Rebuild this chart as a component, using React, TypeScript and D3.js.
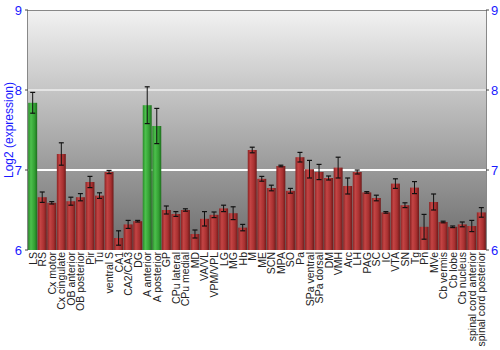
import React from "react";
import * as d3 from "d3";

const categories = ["LS","RS","Cx motor","Cx cingulate","OB anterior","OB posterior","Pir","Tu","ventral S","CA1","CA2/CA3","DG","A anterior","A posterior","GP","CPu lateral","CPu medial","MD","VA/VL","VPM/VPL","LG","MG","Hb","M","ME","SCN","MPA","SO","Pa","SPa ventral","SPa dorsal","DM","VMH","Arc","LH","PAG","SC","IC","VTA","SN","Tg","Pn","MVe","Cb vermis","Cb lobe","Cb nucleus","spinal cord anterior","spinal cord posterior"];
const values = [7.84,6.66,6.59,7.2,6.61,6.66,6.85,6.68,6.975,6.15,6.32,6.36,7.81,7.55,6.5,6.45,6.5,6.2,6.39,6.44,6.52,6.46,6.28,7.25,6.89,6.775,7.05,6.74,7.16,7.01,6.975,6.9,7.03,6.8,6.975,6.72,6.65,6.47,6.83,6.56,6.78,6.29,6.6,6.35,6.29,6.32,6.3,6.47];
const errors = [0.13,0.065,0.015,0.14,0.05,0.045,0.07,0.035,0.02,0.09,0.05,0.01,0.23,0.22,0.05,0.03,0.015,0.05,0.09,0.035,0.04,0.08,0.04,0.035,0.03,0.035,0.01,0.03,0.06,0.11,0.095,0.025,0.13,0.1,0.025,0.01,0.035,0.01,0.06,0.03,0.075,0.155,0.1,0.01,0.01,0.03,0.07,0.06];
const highlighted = ["LS","A anterior","A posterior"];
const yTicks = [6,7,8,9];

export default function App() {
  const W = 500, H = 350;
  const left = 28, right = 486, top = 10, bottom = 250;
  const x = d3.scaleBand<string>().domain(categories).range([left, right]).paddingInner(0.06).paddingOuter(0.02);
  const y = d3.scaleLinear().domain([6, 9]).range([bottom, top]);
  const blue = "#1a1aff";
  return (
    <svg width={W} height={H} style={{ position: "absolute", left: 0, top: 0 }} fontFamily="Liberation Sans, Arial, sans-serif">
      <defs>
        <linearGradient id="bg" x1="0" y1="0" x2="0" y2="1">
          <stop offset="0" stopColor="#f2f2f2" />
          <stop offset="1" stopColor="#6c6c6c" />
        </linearGradient>
        <linearGradient id="red" x1="0" y1="0" x2="1" y2="0">
          <stop offset="0" stopColor="#8a2424" />
          <stop offset="0.3" stopColor="#c44444" />
          <stop offset="0.7" stopColor="#a83030" />
          <stop offset="1" stopColor="#6e1a1a" />
        </linearGradient>
        <linearGradient id="green" x1="0" y1="0" x2="1" y2="0">
          <stop offset="0" stopColor="#2a8a2a" />
          <stop offset="0.3" stopColor="#4cc04c" />
          <stop offset="0.7" stopColor="#34a034" />
          <stop offset="1" stopColor="#1e6e1e" />
        </linearGradient>
      </defs>
      <rect x={left} y={top} width={right - left} height={bottom - top} fill="url(#bg)" />
      {yTicks.filter(t => t > 6 && t < 9).map(t => (
        <line key={t} x1={left} x2={right} y1={y(t)} y2={y(t)} stroke={t === 8 ? "#e4e4e4" : "#ffffff"} strokeWidth={2} />
      ))}
      {categories.map((c, i) => {
        const bx = x(c)!;
        const bw = x.bandwidth();
        const v = values[i];
        const e = errors[i];
        const cx = bx + bw / 2;
        return (
          <g key={c}>
            <rect x={bx} y={y(v)} width={bw} height={bottom - y(v)} fill={highlighted.includes(c) ? "url(#green)" : "url(#red)"} />
            <line x1={cx} x2={cx} y1={y(v + e)} y2={y(v - e)} stroke="#111" strokeWidth={1} />
            <line x1={cx - 2.5} x2={cx + 2.5} y1={y(v + e)} y2={y(v + e)} stroke="#111" strokeWidth={1.2} />
            <line x1={cx - 2.5} x2={cx + 2.5} y1={y(v - e)} y2={y(v - e)} stroke="#111" strokeWidth={1.2} />
            <text transform={`translate(${cx + 4},${bottom + 2}) rotate(-90)`} textAnchor="end" fontSize={10.5} fill="#222">{c}</text>
          </g>
        );
      })}
      <line x1={left} x2={right} y1={top + 0.5} y2={top + 0.5} stroke="#888" />
      <line x1={left - 0.5} x2={left - 0.5} y1={top} y2={bottom} stroke="#888" />
      <line x1={right + 0.5} x2={right + 0.5} y1={top} y2={bottom} stroke="#888" />
      {yTicks.map(t => (
        <g key={t}>
          <line x1={left - 3} x2={left} y1={y(t)} y2={y(t)} stroke="#444" />
          <line x1={right} x2={right + 3} y1={y(t)} y2={y(t)} stroke="#444" />
          <text x={left - 6} y={y(t) + 4.5} textAnchor="end" fontSize={13} fill={blue}>{t}</text>
          <text x={right + 5} y={y(t) + 4.5} textAnchor="start" fontSize={13} fill={blue}>{t}</text>
        </g>
      ))}
      <text transform={`translate(13,${(top + bottom) / 2}) rotate(-90)`} textAnchor="middle" fontSize={12} fill={blue}>Log2 (expression)</text>
    </svg>
  );
}
